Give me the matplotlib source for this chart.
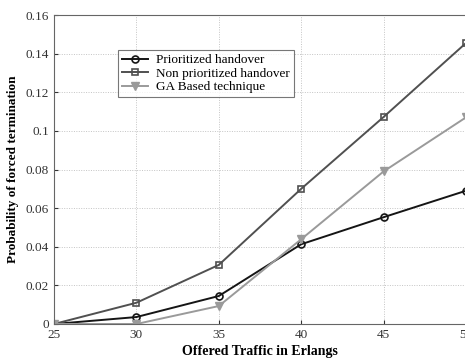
import matplotlib
matplotlib.use("Agg")
import matplotlib.pyplot as plt

# Offered traffic (Erlangs) and forced termination probabilities
traffic = [25, 30, 35, 40, 45, 50]
prioritized = [0.0, 0.0036, 0.0145, 0.0413, 0.0553, 0.069]
non_prioritized = [0.0, 0.011, 0.0306, 0.070, 0.1072, 0.1455]
ga_based = [0.0, 0.0, 0.0093, 0.0439, 0.079, 0.107]

y_ticks = [0, 0.02, 0.04, 0.06, 0.08, 0.1, 0.12, 0.14, 0.16]
y_labels = ["0", "0.02", "0.04", "0.06", "0.08", "0.1", "0.12", "0.14", "0.16"]

plt.rcParams["font.family"] = ["Liberation Serif", "DejaVu Serif"]

fig = plt.figure(figsize=(4.65, 3.58), dpi=100)
ax = fig.add_axes([54 / 465, 1 - 324 / 358, (466 - 54) / 465, (324 - 15) / 358])

ax.plot(traffic, prioritized, color="#151515", lw=1.4, marker="o", ms=5,
        mfc="none", mec="#151515", mew=1.2, label="Prioritized handover")
ax.plot(traffic, non_prioritized, color="#505050", lw=1.4, marker="s", ms=5,
        mfc="none", mec="#505050", mew=1.2, label="Non prioritized handover")
ax.plot(traffic, ga_based, color="#9a9a9a", lw=1.4, marker="v", ms=6,
        mfc="#9a9a9a", mec="#9a9a9a", label="GA Based technique")

ax.set_xlim(25, 50)
ax.set_ylim(0, 0.16)
ax.set_xticks(traffic)
ax.set_yticks(y_ticks)
ax.set_yticklabels(y_labels)
ax.tick_params(labelsize=9.5, direction="in", length=3, colors="#333333")
ax.grid(True, linestyle=(0, (1, 1.5)), color="#c4c4c4", lw=0.7)
for s in ax.spines.values():
    s.set_color("#666666")
    s.set_linewidth(0.8)

ax.set_xlabel("Offered Traffic in Erlangs", fontsize=10, fontweight="bold", labelpad=3)
ax.set_ylabel("Probability of forced termination", fontsize=9.5, fontweight="bold", labelpad=5)

leg = ax.legend(loc="upper left", bbox_to_anchor=(64 / 412, 1 - 35 / 309), fontsize=9.5,
                frameon=True, fancybox=False, edgecolor="#555555", borderpad=0.3,
                labelspacing=0.1, handlelength=2.0, handletextpad=0.6, borderaxespad=0)
leg.get_frame().set_linewidth(0.8)

fig.savefig("out.png", dpi=100)
